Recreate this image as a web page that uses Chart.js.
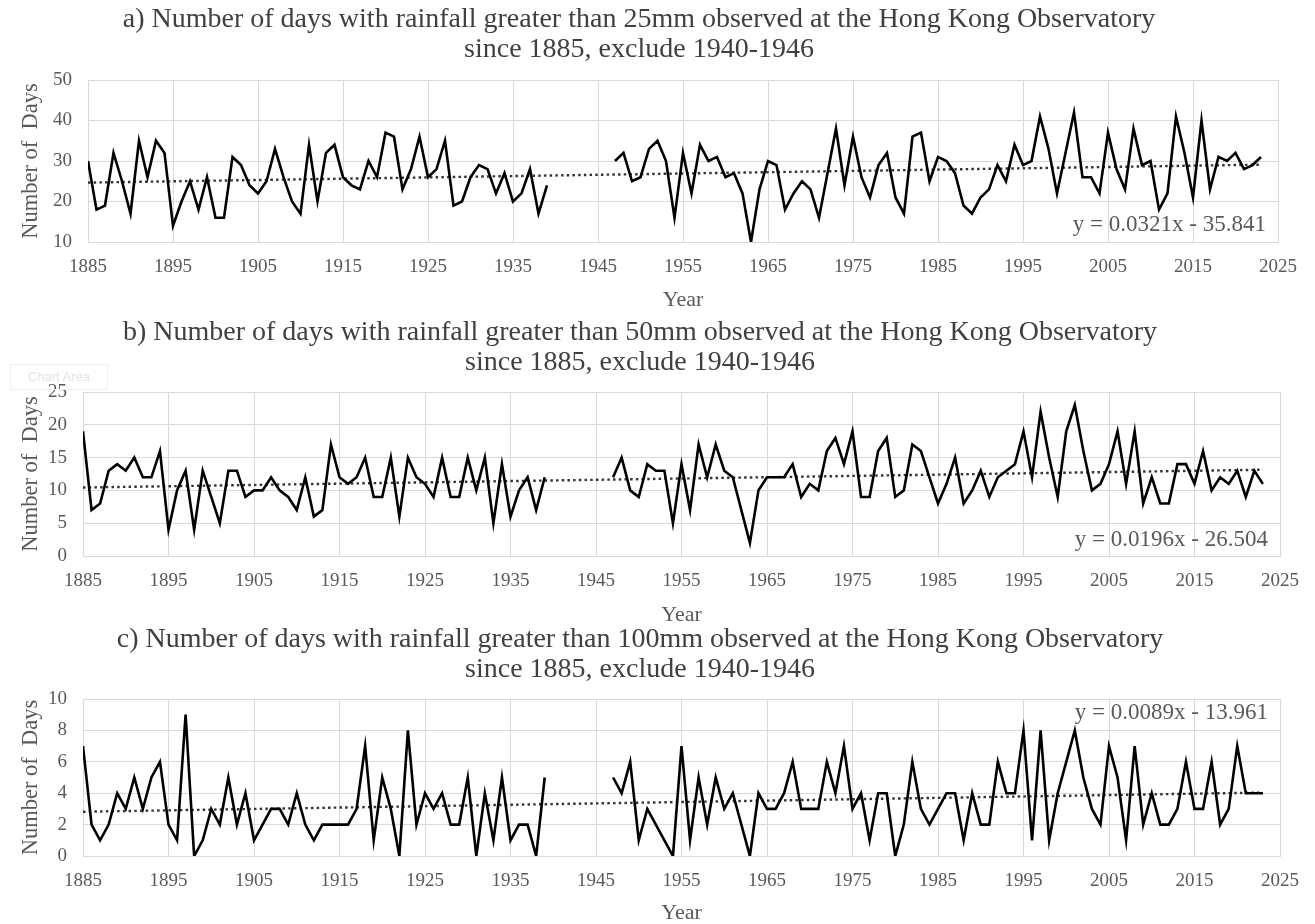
<!DOCTYPE html>
<html>
<head>
<meta charset="utf-8">
<script src="https://cdn.jsdelivr.net/npm/chart.js@4.4.0/dist/chart.umd.min.js"></script>
<style>
  body { margin: 0; background: #fff; width: 1315px; height: 924px; position: relative; overflow: hidden; }
  canvas { position: absolute; left: 0; }
  #tip { position: absolute; left: 10px; top: 364px; width: 96px; height: 24px; border: 1px solid #f0f0f0;
         font: 13px "Liberation Sans", sans-serif; color: #e4e4e4; line-height: 24px; text-align: center; }
</style>
</head>
<body>
<canvas id="chartA" width="1315" height="312" style="top:0px"></canvas>
<canvas id="chartB" width="1315" height="318" style="top:312px"></canvas>
<canvas id="chartC" width="1315" height="304" style="top:620px"></canvas>
<div id="tip">Chart Area</div>
<script>
// years: 1885-1939, then a gap (1940-1946), then 1947-2023
const yearsEarly = [];
for (let y = 1885; y <= 1939; y++) yearsEarly.push(y);
const yearsLate = [];
for (let y = 1947; y <= 2023; y++) yearsLate.push(y);

const xTicks = [1885, 1895, 1905, 1915, 1925, 1935, 1945, 1955, 1965, 1975, 1985, 1995, 2005, 2015, 2025];

// a) rainfall > 25mm
const days25Early = [30,18,19,32,25,17,35,26,35,32, 14,20,25,18,26,16,16,31,29,24,
  22,25,33,26,20,17,34,20,32,34, 26,24,23,30,26,37,36,23,28,36,
  26,28,35,19,20,26,29,28,22,27, 20,22,28,17,24];
const days25Late = [30,32,25,26,33,35,30,16,32,22, 34,30,31,26,27,22,10,23,30,29,
  18,22,25,23,16,27,38,24,36,26, 21,29,32,21,17,36,37,25,31,30,
  27,19,17,21,23,29,25,34,29,30, 41,33,22,32,42,26,26,22,37,28,
  23,38,29,30,18,22,41,32,21,40, 23,31,30,32,28,29,31];
const trend25 = [24.67, 29.10];

// b) rainfall > 50mm
const days50Early = [19,7,8,13,14,13,15,12,12,16, 4,10,13,4,13,9,5,13,13,9,
  10,10,12,10,9,7,12,6,7,17, 12,11,12,15,9,9,15,6,15,12,
  11,9,15,9,9,15,10,15,5,14, 6,10,12,7,12];
const days50Late = [12,15,10,9,14,13,13,5,14,7, 17,12,17,13,12,7,2,10,12,12,
  12,14,9,11,10,16,18,14,19,9, 9,16,18,9,10,17,16,12,8,11,
  15,8,10,13,9,12,13,14,19,12, 22,15,9,19,23,16,10,11,14,19,
  11,19,8,12,8,8,14,14,11,16, 10,12,11,13,9,13,11];
const trend50 = [10.44, 13.15];

// c) rainfall > 100mm
const days100Early = [7,2,1,2,4,3,5,3,5,6, 2,1,9,0,1,3,2,5,2,4,
  1,2,3,3,2,4,2,1,2,2, 2,2,3,7,1,5,3,0,8,2,
  4,3,4,2,2,5,0,4,1,5, 1,2,2,0,5];
const days100Late = [5,4,6,1,3,2,1,0,7,1, 5,2,5,3,4,2,0,4,3,3,
  4,6,3,3,3,6,4,7,3,4, 1,4,4,0,2,6,3,2,3,4,
  4,1,4,2,2,6,4,4,8,1, 8,1,4,6,8,5,3,2,7,5,
  1,7,2,4,2,2,3,6,3,3, 6,2,3,7,4,4,4];
const trend100 = [2.82, 4.04];

const serif = "'Times New Roman', 'Liberation Serif', serif";
const gridColor = '#d9d9d9';

const eqLabel = {
  id: 'eqLabel',
  afterDatasetsDraw(chart, args, opts) {
    const { ctx, chartArea } = chart;
    ctx.save();
    ctx.font = '23px ' + serif;
    ctx.fillStyle = '#595959';
    ctx.textAlign = 'right';
    ctx.textBaseline = 'middle';
    const y = opts.atTop ? chartArea.top + opts.offset : chartArea.bottom - opts.offset;
    ctx.fillText(opts.text, chartArea.right - 12, y);
    ctx.restore();
  }
};

function buildPoints(early, late) {
  const pts = yearsEarly.map((yr, i) => ({ x: yr, y: early[i] }));
  pts.push({ x: 1943, y: null });
  yearsLate.forEach((yr, i) => pts.push({ x: yr, y: late[i] }));
  return pts;
}

function makeChart(id, c) {
  return new Chart(document.getElementById(id), {
    type: 'line',
    data: {
      datasets: [
        {
          data: buildPoints(c.early, c.late),
          borderColor: '#000',
          borderWidth: 2.6,
          pointRadius: 0,
          tension: 0,
          spanGaps: false
        },
        {
          data: [{ x: 1885, y: c.trend[0] }, { x: 2023, y: c.trend[1] }],
          borderColor: '#333',
          borderWidth: 2.4,
          borderDash: [2.5, 3.2],
          pointRadius: 0
        }
      ]
    },
    options: {
      responsive: false,
      animation: false,
      events: [],
      layout: { padding: { left: 0, right: c.rightPad, top: 0, bottom: 0 } },
      plugins: {
        legend: { display: false },
        tooltip: { enabled: false },
        title: {
          display: true,
          text: c.title,
          color: '#404040',
          font: { family: serif, size: 28, weight: 'normal', lineHeight: 30 / 28 },
          padding: { top: c.titleTop, bottom: c.titleBottom }
        },
        eqLabel: { text: c.eq, atTop: c.eqTop, offset: c.eqOffset }
      },
      scales: {
        x: {
          type: 'linear',
          min: 1885,
          max: 2025,
          afterBuildTicks: s => { s.ticks = xTicks.map(v => ({ value: v })); },
          afterFit: s => { s.height = c.xHeight; },
          ticks: {
            color: '#595959',
            font: { family: serif, size: 19 },
            padding: 14,
            maxRotation: 0,
            callback: v => String(v)
          },
          grid: { color: gridColor, drawTicks: false },
          border: { color: gridColor },
          title: {
            display: true,
            text: 'Year',
            color: '#595959',
            font: { family: serif, size: 22, lineHeight: 1 },
            padding: { top: 0, bottom: c.yearPad }
          }
        },
        y: {
          min: c.yMin,
          max: c.yMax,
          afterFit: s => { s.width = c.left; },
          ticks: {
            stepSize: c.yStep,
            color: '#595959',
            font: { family: serif, size: 19 },
            padding: 16
          },
          grid: { color: gridColor, drawTicks: false },
          border: { color: gridColor },
          title: {
            display: true,
            text: 'Number of  Days',
            color: '#595959',
            font: { family: serif, size: 22.5, lineHeight: 1 },
            padding: { top: 20, bottom: 0 }
          }
        }
      }
    },
    plugins: [eqLabel]
  });
}

makeChart('chartA', {
  title: ['a) Number of days with rainfall greater than 25mm observed at the Hong Kong Observatory',
          'since 1885, exclude 1940-1946'],
  early: days25Early, late: days25Late, trend: trend25,
  yMin: 10, yMax: 50, yStep: 10,
  eq: 'y = 0.0321x - 35.841', eqTop: false, eqOffset: 17,
  titleTop: 5, titleBottom: 15, xHeight: 70, yearPad: 1, left: 88, rightPad: 37
});

makeChart('chartB', {
  title: ['b) Number of days with rainfall greater than 50mm observed at the Hong Kong Observatory',
          'since 1885, exclude 1940-1946'],
  early: days50Early, late: days50Late, trend: trend50,
  yMin: 0, yMax: 25, yStep: 5,
  eq: 'y = 0.0196x - 26.504', eqTop: false, eqOffset: 16,
  titleTop: 6, titleBottom: 14, xHeight: 74, yearPad: 4, left: 83, rightPad: 35
});

makeChart('chartC', {
  title: ['c) Number of days with rainfall greater than 100mm observed at the Hong Kong Observatory',
          'since 1885, exclude 1940-1946'],
  early: days100Early, late: days100Late, trend: trend100,
  yMin: 0, yMax: 10, yStep: 2,
  eq: 'y = 0.0089x - 13.961', eqTop: true, eqOffset: 14,
  titleTop: 5, titleBottom: 14, xHeight: 68, yearPad: 0, left: 83, rightPad: 35
});
</script>
</body>
</html>
